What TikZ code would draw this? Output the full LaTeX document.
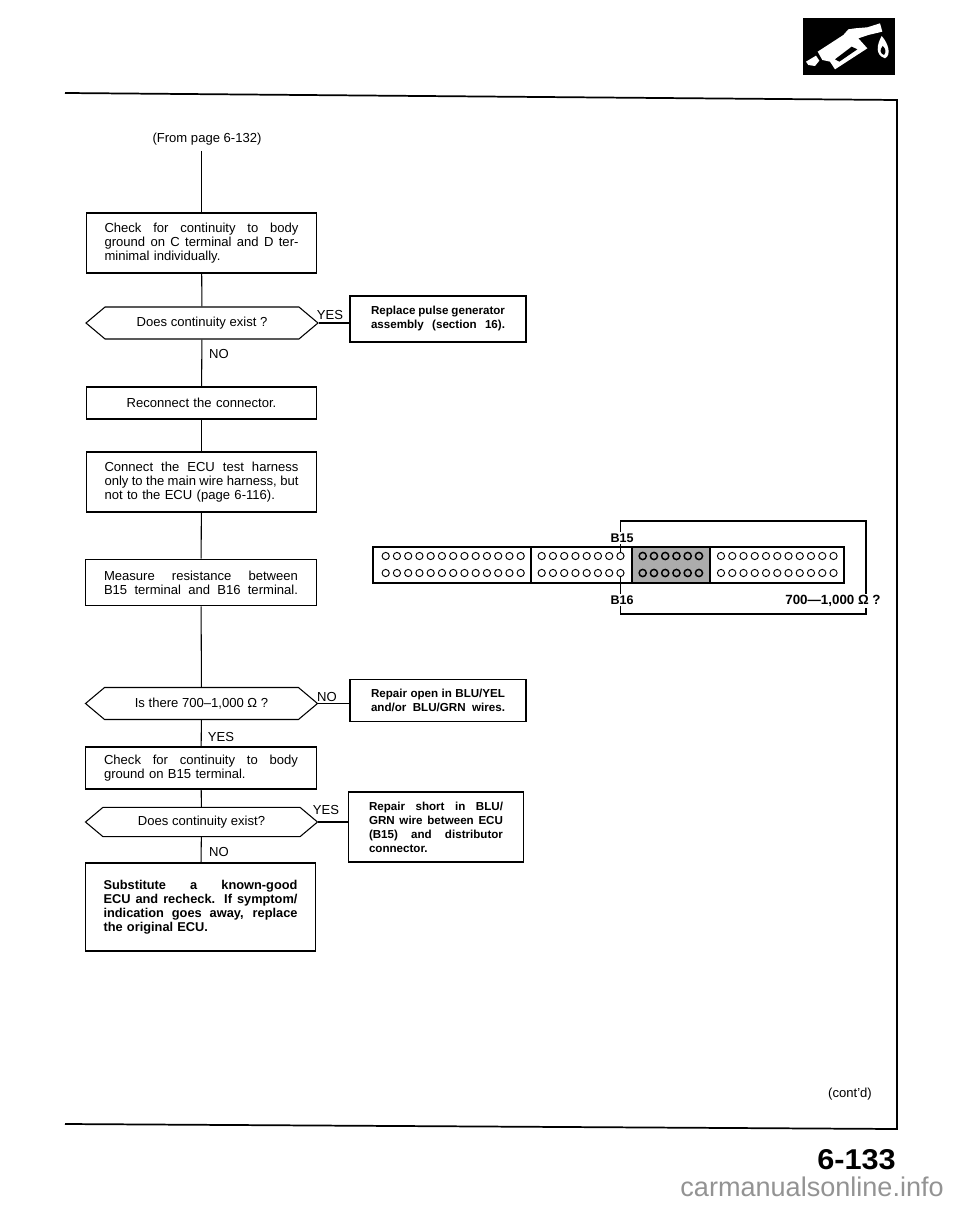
\documentclass[tikz,border=0pt]{standalone}
\usepackage{fontspec}
\setmainfont{Liberation Sans}
\usetikzlibrary{shapes.symbols}
\newcommand{\justline}[2][145.5pt]{\makebox[#1][s]{\spaceskip=0pt \xspaceskip=0pt #2}}
\tikzset{
    every node/.style={font=\fontsize{9.8}{10.5}\selectfont},
    flowline/.style={line width=0.8pt},
    stepbox/.style={draw, line width=0.8pt, inner sep=0pt, text width=145.5pt, minimum width=173pt, align=left},
    repairbox/.style={draw, line width=0.8pt, inner sep=0pt, text width=100.5pt, minimum width=132pt, align=left, font=\fontsize{8.7}{10.5}\selectfont\bfseries},
    question/.style={draw, line width=0.8pt, inner sep=0pt, shape=signal, signal to=west and east, signal pointer angle=80, minimum width=174pt, minimum height=24pt},
    pinhole/.style={draw, circle, inner sep=0pt, minimum size=5.4pt, line width=0.7pt},
    plugbox/.style={line width=1.5pt}
}
\begin{document}
\begin{tikzpicture}[x=0.75pt, y=-0.75pt]
    \useasboundingbox (0,0) rectangle (960,1205);

    % page frame
    \draw[line width=1.3pt] (65,93) -- (897,100) -- (897,1129) -- (65,1124);

    % fuel nozzle icon
    \fill (803,18) rectangle (895,75);
    \begin{scope}[shift={(780,0)}, x=0.25pt, y=-0.25pt]
        \fill[white] (113,155) -- (190,105) -- (205,88) -- (225,85) -- (262,82) -- (300,70) -- (307,95) -- (265,105) -- (235,115) -- (262,145) -- (165,208) -- (150,185) -- (127,180) -- cycle;
        \fill (165,178) -- (215,140) -- (232,148) -- (178,185) -- cycle;
        \fill[white] (78,185) -- (108,167) -- (118,182) -- (105,198) -- (85,195) -- cycle;
        \fill[white] (305,108) .. controls (290,135) and (285,165) .. (315,175) .. controls (335,165) and (325,130) .. (305,108);
        \fill (308,138) .. controls (298,150) and (300,160) .. (312,165) .. controls (320,155) and (316,145) .. (308,138);
    \end{scope}

    % flow chart boxes
    \node (frompage) at (207,139) {(From page 6-132)};
    \node[stepbox, minimum height=45pt] (checkcd) at (201.5,243) {\justline{Check for continuity to body}\\\justline{ground on C terminal and D ter-}\\minimal individually.};
    \node[question] (existone) at (202,323) {Does continuity exist ?};
    \node[repairbox, minimum height=34.5pt] (replace) at (438,319) {\justline[100.5pt]{Replace pulse generator}\\\justline[100.5pt]{assembly (section 16).}};
    \node[stepbox, minimum height=24pt, align=center] (reconnect) at (201.5,403) {Reconnect the connector.};
    \node[stepbox, minimum height=45pt] (harness) at (201.5,482) {\justline{Connect the ECU test harness}\\\justline{only to the main wire harness, but}\\not to the ECU (page 6-116).};
    \node[stepbox, minimum height=35pt] (measure) at (201,582.5) {\justline{Measure resistance between}\\\justline{B15 terminal and B16 terminal.}};
    \node[question] (isthere) at (201.5,703.5) {Is there 700–1,000 Ω ?};
    \node[repairbox, minimum height=31pt] (repairopen) at (438,700.5) {\justline[100.5pt]{Repair open in BLU/YEL}\\\justline[100.5pt]{and/or BLU/GRN wires.}};
    \node[stepbox, minimum height=31.5pt] (checkbfif) at (201,768) {\justline{Check for continuity to body}\\ground on B15 terminal.};
    \node[question, minimum height=22pt] (existtwo) at (201.5,822) {Does continuity exist?};
    \node[repairbox, minimum height=52.5pt, minimum width=131pt] (repairshort) at (436,827) {\justline[100.5pt]{Repair short in BLU/}\\\justline[100.5pt]{GRN wire between ECU}\\\justline[100.5pt]{(B15) and distributor}\\connector.};
    \node[stepbox, minimum height=66pt, font=\fontsize{9.6}{10.5}\selectfont\bfseries] (substitute) at (200.5,907) {\justline{Substitute a known-good}\\\justline{ECU and recheck. If symptom/}\\\justline{indication goes away, replace}\\the original ECU.\\[3pt]};

    % yes and no labels
    \node (yesone) at (330,315) {YES};
    \node (noone) at (219,354) {NO};
    \node (notwo) at (327,697) {NO};
    \node (yestwo) at (221,737) {YES};
    \node (yesthree) at (326,810) {YES};
    \node (nothree) at (219,852) {NO};

    % flow lines
    \draw[flowline] (frompage.south -| checkcd.north) ++(0,1) -- (checkcd.north);
    \draw[flowline] (checkcd) -- (existone);
    \draw[flowline] (existone) -- (reconnect);
    \draw[flowline] (reconnect) -- (harness);
    \draw[flowline] (harness) -- (measure);
    \draw[flowline] (measure) -- (isthere);
    \draw[flowline] (isthere) -- (checkbfif);
    \draw[flowline] (checkbfif) -- (existtwo);
    \draw[flowline] (existtwo) -- (substitute);
    \draw[flowline] (existone.east) -- (existone.east -| replace.west);
    \draw[flowline] (isthere.east) -- (isthere.east -| repairopen.west);
    \draw[flowline] (existtwo.east) -- (existtwo.east -| repairshort.west);

    % connector
    \fill[gray!65] (632,547) rectangle (710,583);
    \draw[plugbox] (373,547) rectangle (844,583);
    \draw[plugbox] (531,547) -- (531,583);
    \draw[plugbox] (632,547) -- (632,583);
    \draw[plugbox] (710,547) -- (710,583);
    \foreach \g/\x/\n/\w in {a/385.7/12/0.7, b/541.7/7/0.7, c/642.7/5/1.1, d/721/10/0.7}
        \foreach \r/\y in {1/556, 2/573}
            \foreach \i in {0,...,\n}
                \node[pinhole, line width=\w pt] (pin-\g-\r-\i) at ({\x+11.25*\i},\y) {};

    % meter wire
    \coordinate (wirene) at (866,521);
    \coordinate (wirese) at (866,614);
    \node[font=\fontsize{9.4}{10.5}\selectfont\bfseries, inner sep=1pt] (bfifteen) at (622,538) {B15};
    \node[font=\fontsize{9.4}{10.5}\selectfont\bfseries, inner sep=1pt] (bsixteen) at (622,600) {B16};
    \node[font=\fontsize{10}{10.5}\selectfont\bfseries, inner sep=1pt] (ohms) at (833,601) {700—1,000 Ω ?};
    \draw[flowline] (pin-b-1-7.north) -- (pin-b-1-7.north |- bfifteen.south);
    \draw[flowline] (pin-b-1-7.north |- bfifteen.north) |- (wirene) -- (wirene |- ohms.north);
    \draw[flowline] (pin-b-2-7.south) -- (pin-b-2-7.south |- bsixteen.north);
    \draw[flowline] (pin-b-2-7.south |- bsixteen.south) |- (wirese) -- (wirese |- ohms.south);

    % page texts
    \node (contd) at (850,1094) {(cont'd)};
    \node[font=\fontsize{21.5}{24}\selectfont\bfseries, inner sep=0pt, xscale=1.07] (pagenumber) at (856.5,1160) {6-133};
    \node[font=\fontsize{20.3}{22}\selectfont, text=gray!85, anchor=base east, inner sep=0pt] (watermark) at (944,1196) {carmanualsonline.info};
\end{tikzpicture}
\end{document}
